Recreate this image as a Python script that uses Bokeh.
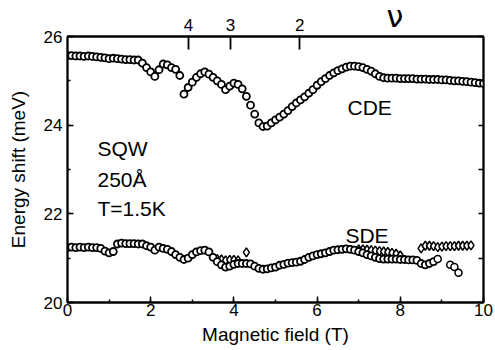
from bokeh.plotting import figure
from bokeh.models import (Range1d, LinearAxis, SingleIntervalTicker, FixedTicker, Label,
                          CustomJSTickFormatter, Title)
from bokeh.embed import file_html
from bokeh.resources import INLINE

# ---- data ----
cde_field = [0.0, 0.1, 0.2, 0.3, 0.4, 0.5, 0.6, 0.7, 0.8, 0.9,
             1.0, 1.1, 1.2, 1.3, 1.4, 1.5, 1.6, 1.7, 1.8, 1.9,
             2.0, 2.1, 2.2, 2.3, 2.4, 2.5, 2.6, 2.7, 2.8, 2.9,
             3.0, 3.1, 3.2, 3.3, 3.4, 3.5, 3.6, 3.7, 3.8, 3.9,
             4.0, 4.1, 4.2, 4.3, 4.4, 4.5, 4.6, 4.7, 4.8, 4.9,
             5.0, 5.1, 5.2, 5.3, 5.4, 5.5, 5.6, 5.7, 5.8, 5.9,
             6.0, 6.1, 6.2, 6.3, 6.4, 6.5, 6.6, 6.7, 6.8, 6.9,
             7.0, 7.1, 7.2, 7.3, 7.4, 7.5, 7.6, 7.7, 7.8, 7.9,
             8.0, 8.1, 8.2, 8.3, 8.4, 8.5, 8.6, 8.7, 8.8, 8.9,
             9.0, 9.1, 9.2, 9.3, 9.4, 9.5, 9.6, 9.7, 9.8, 9.9, 10.0]
cde_shift = [25.57, 25.57, 25.56, 25.56, 25.55, 25.56, 25.55, 25.54, 25.53, 25.52,
             25.50, 25.51, 25.50, 25.49, 25.48, 25.48, 25.47, 25.47, 25.40, 25.30,
             25.20, 25.10, 25.25, 25.38, 25.36, 25.30, 25.26, 25.12, 24.70, 24.85,
             24.97, 25.08, 25.16, 25.20, 25.15, 25.08, 25.00, 24.92, 24.80, 24.88,
             24.95, 24.92, 24.82, 24.65, 24.45, 24.25, 24.05, 23.97, 23.98, 24.05,
             24.12, 24.18, 24.25, 24.33, 24.42, 24.50, 24.57, 24.64, 24.72, 24.80,
             24.90, 24.98, 25.05, 25.12, 25.18, 25.23, 25.27, 25.31, 25.33, 25.33,
             25.32, 25.30, 25.26, 25.22, 25.16, 25.10, 25.07, 25.06, 25.06, 25.06,
             25.05, 25.05, 25.05, 25.05, 25.04, 25.04, 25.04, 25.03, 25.03, 25.03,
             25.02, 25.02, 25.01, 25.00, 25.00, 24.99, 24.98, 24.97, 24.96, 24.95, 24.94]

sde_field = [0.0, 0.1, 0.2, 0.3, 0.4, 0.5, 0.6, 0.7, 0.8, 0.9,
             1.0, 1.1, 1.2, 1.3, 1.4, 1.5, 1.6, 1.7, 1.8, 1.9,
             2.0, 2.1, 2.2, 2.3, 2.4, 2.5, 2.6, 2.7, 2.8, 2.9,
             3.0, 3.1, 3.2, 3.3, 3.4, 3.5, 3.6, 3.7, 3.8, 3.9,
             4.0, 4.1, 4.2, 4.3, 4.4, 4.5, 4.6, 4.7, 4.8, 4.9,
             5.0, 5.1, 5.2, 5.3, 5.4, 5.5, 5.6, 5.7, 5.8, 5.9,
             6.0, 6.1, 6.2, 6.3, 6.4, 6.5, 6.6, 6.7, 6.8, 6.9,
             7.0, 7.1, 7.2, 7.3, 7.4, 7.5, 7.6, 7.7, 7.8, 7.9,
             8.0, 8.1, 8.2, 8.3, 8.4, 8.5, 8.6, 8.7, 8.8]
sde_shift = [21.24, 21.25, 21.24, 21.25, 21.24, 21.25, 21.24, 21.24, 21.22, 21.16,
             21.12, 21.15, 21.32, 21.34, 21.33, 21.33, 21.33, 21.32, 21.32, 21.28,
             21.25, 21.18, 21.25, 21.22, 21.20, 21.15, 21.08, 21.02, 20.97, 21.00,
             21.08, 21.14, 21.17, 21.18, 21.14, 21.02, 20.92, 20.85, 20.80, 20.82,
             20.86, 20.88, 20.88, 20.88, 20.87, 20.82, 20.77, 20.75, 20.76, 20.78,
             20.80, 20.84, 20.86, 20.89, 20.90, 20.91, 20.93, 20.97, 21.02, 21.05,
             21.08, 21.10, 21.12, 21.15, 21.18, 21.19, 21.20, 21.21, 21.20, 21.18,
             21.15, 21.12, 21.08, 21.05, 21.02, 20.99, 20.98, 20.98, 20.98, 20.98,
             20.97, 20.97, 20.96, 20.96, 20.95, 20.88, 20.85, 20.88, 20.92]

sde2_field = [3.6, 3.7, 3.8, 3.9, 4.0, 4.1, 4.3,
              7.0, 7.1, 7.2, 7.3, 7.4, 7.5, 7.6, 7.7, 7.8, 7.9, 8.0,
              8.5, 8.6, 8.7, 8.8, 8.9, 9.0, 9.1, 9.2, 9.3, 9.4, 9.5, 9.6, 9.7]
sde2_shift = [20.98, 20.97, 20.95, 20.96, 20.96, 20.95, 21.13,
              21.20, 21.20, 21.19, 21.18, 21.17, 21.16, 21.15, 21.14, 21.12, 21.10, 21.06,
              21.22, 21.28, 21.28, 21.27, 21.25, 21.26, 21.27, 21.27, 21.27, 21.28, 21.28, 21.28, 21.29]

sde3_field = [8.9, 9.2, 9.3, 9.4]
sde3_shift = [20.98, 20.85, 20.80, 20.67]

nu_field = [2.91, 3.92, 5.58]
nu_labels = ["4", "3", "2"]
nu_symbol_field = 7.9
nu_symbol = "ν"

FONT = "Liberation Sans"
W, H = 495, 350
BL, BR, BT, BB = 67, 12, 36, 48
X0, X1 = 0, 10

p = figure(width=W, height=H, output_backend="svg", toolbar_location=None,
           x_range=Range1d(X0, X1), y_range=Range1d(20, 26),
           min_border_left=BL, min_border_right=BR, min_border_top=BT, min_border_bottom=BB,
           background_fill_color="white", border_fill_color="white")
p.grid.visible = False
p.outline_line_color = "black"
p.outline_line_width = 1.8

# bottom axis
xa = p.xaxis[0]
xa.ticker = SingleIntervalTicker(interval=2, num_minor_ticks=2)
xa.axis_label = "Magnetic field (T)"
# left axis
ya = p.yaxis[0]
ya.ticker = SingleIntervalTicker(interval=2, num_minor_ticks=2)
ya.axis_label = "Energy shift (meV)"

for ax in (xa, ya):
    ax.axis_line_width = 1.8
    ax.axis_line_color = "black"
    ax.major_tick_in = 6
    ax.major_tick_out = 0
    ax.minor_tick_in = 3
    ax.minor_tick_out = 0
    ax.major_tick_line_width = 1.5
    ax.minor_tick_line_width = 1.5
    ax.major_label_text_font = FONT
    ax.major_label_text_font_size = "17px"
    ax.major_label_text_color = "black"
    ax.axis_label_text_font = FONT
    ax.axis_label_text_font_size = "19px"
    ax.axis_label_text_font_style = "normal"
    ax.axis_label_text_color = "black"
xa.major_label_standoff = 1
xa.axis_label_standoff = 5
ya.major_label_standoff = 5
ya.axis_label_standoff = 12

# right axis: ticks only
ra = LinearAxis(ticker=SingleIntervalTicker(interval=1, num_minor_ticks=0),
                formatter=CustomJSTickFormatter(code="return ''"),
                major_tick_in=5, major_tick_out=0, minor_tick_in=0, minor_tick_out=0,
                axis_line_width=1.8, major_tick_line_width=1.5, major_label_standoff=0)
p.add_layout(ra, "right")

# top axis: filling-factor marks
ta = LinearAxis(ticker=FixedTicker(ticks=nu_field),
                major_label_overrides={v: s for v, s in zip(nu_field, nu_labels)},
                major_tick_in=13, major_tick_out=0, minor_tick_in=0, minor_tick_out=0,
                axis_line_width=1.8, major_tick_line_width=1.8,
                major_label_text_font=FONT, major_label_text_font_size="17px",
                major_label_text_color="black", major_label_standoff=6)
p.add_layout(ta, "above")

# the nu symbol as an outer title panel of (almost) zero height
frame_w = W - BL - BR
nu_title = Title(text=nu_symbol, align="left", vertical_align="bottom",
                 offset=int((nu_symbol_field - X0) / (X1 - X0) * frame_w) - 9,
                 standoff=-37, text_font="DejaVu Sans", text_font_size="30px",
                 text_font_style="normal", text_color="black")
p.add_layout(nu_title, "above")

# data
p.scatter(cde_field, cde_shift, marker="circle", size=7, line_color="black",
          line_width=1.8, fill_color="white")
p.scatter(sde2_field, sde2_shift, marker="diamond", size=9, line_color="black",
          line_width=1.5, fill_color="white")
p.scatter(sde_field, sde_shift, marker="circle", size=7, line_color="black",
          line_width=1.8, fill_color="white")
p.scatter(sde3_field, sde3_shift, marker="circle", size=7, line_color="black",
          line_width=1.5, fill_color="white")

# annotations
for txt, x, y in [("SQW", 0.72, 23.47), ("250Å", 0.72, 22.77), ("T=1.5K", 0.72, 22.12),
                  ("CDE", 6.73, 24.40), ("SDE", 6.68, 21.51)]:
    p.add_layout(Label(x=x, y=y, text=txt, text_font=FONT, text_font_size="21px",
                       text_baseline="alphabetic", text_color="black"))

open("out.html", "w").write(file_html(p, INLINE))
